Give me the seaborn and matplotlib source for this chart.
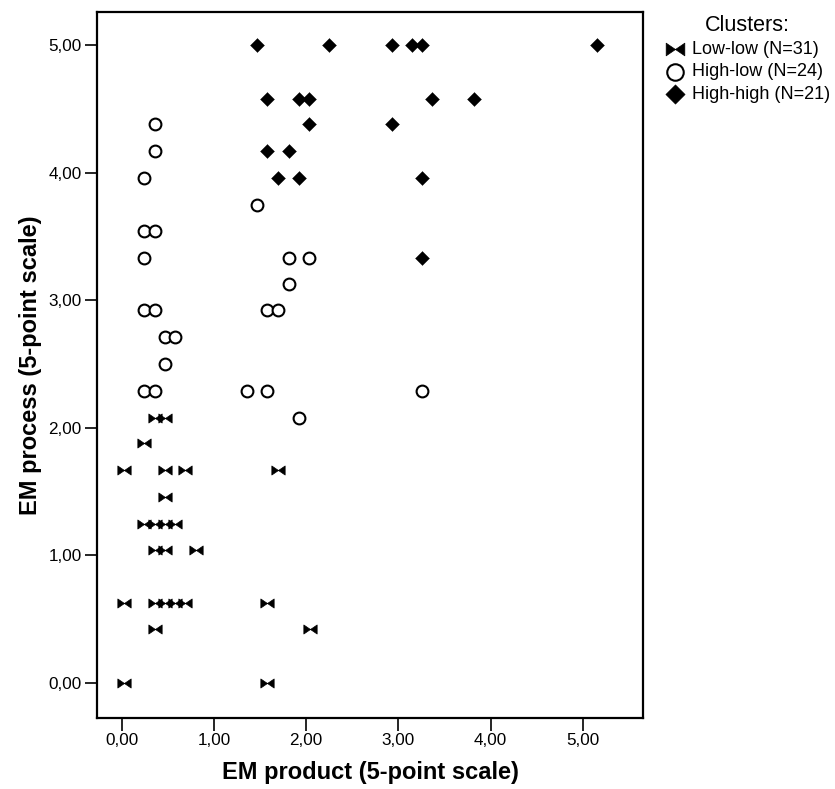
import numpy as np
import pandas as pd
import matplotlib
matplotlib.use("Agg")
import matplotlib.pyplot as plt
from matplotlib.path import Path
import seaborn as sns

# ---- data ----
lowlow_x = [0.36, 0.47, 0.24, 0.02, 0.47, 0.69, 1.70, 0.47, 0.24, 0.36, 0.47, 0.58,
            0.36, 0.47, 0.81, 0.02, 0.36, 0.47, 0.58, 0.69, 1.58, 0.36, 2.04, 0.02, 1.58]
lowlow_y = [2.08, 2.08, 1.88, 1.67, 1.67, 1.67, 1.67, 1.46, 1.25, 1.25, 1.25, 1.25,
            1.04, 1.04, 1.04, 0.63, 0.63, 0.63, 0.63, 0.63, 0.63, 0.42, 0.42, 0.00, 0.00]

highlow_x = [0.36, 0.36, 0.24, 1.47, 0.24, 0.36, 0.24, 1.81, 2.03, 1.81, 0.24, 0.36,
             1.58, 1.70, 0.47, 0.58, 0.47, 0.24, 0.36, 1.36, 1.58, 3.26, 1.92]
highlow_y = [4.38, 4.17, 3.96, 3.75, 3.54, 3.54, 3.33, 3.33, 3.33, 3.13, 2.92, 2.92,
             2.92, 2.92, 2.71, 2.71, 2.50, 2.29, 2.29, 2.29, 2.29, 2.29, 2.08]

highhigh_x = [1.47, 2.25, 2.93, 3.15, 3.26, 5.15, 1.58, 1.92, 2.03, 3.37, 3.82,
              2.03, 2.93, 1.58, 1.81, 1.70, 1.92, 3.26, 3.26]
highhigh_y = [5.00, 5.00, 5.00, 5.00, 5.00, 5.00, 4.58, 4.58, 4.58, 4.58, 4.58,
              4.38, 4.38, 4.17, 4.17, 3.96, 3.96, 3.96, 3.33]

cluster_labels = ["Low-low (N=31)", "High-low (N=24)", "High-high (N=21)"]
tick_values = [0, 1, 2, 3, 4, 5]
tick_labels = ["0,00", "1,00", "2,00", "3,00", "4,00", "5,00"]
x_title = "EM product (5-point scale)"
y_title = "EM process (5-point scale)"
legend_title = "Clusters:"

# ---- style ----
sns.set_style("white")
plt.rcParams["font.family"] = ["Liberation Sans", "DejaVu Sans"]
plt.rcParams["text.color"] = "black"
plt.rcParams["axes.labelcolor"] = "black"

bowtie = Path([(-1, 0.68), (0, 0), (1, 0.68), (1, -0.68), (0, 0), (-1, -0.68), (-1, 0.68)],
              [Path.MOVETO, Path.LINETO, Path.LINETO, Path.LINETO, Path.LINETO, Path.LINETO,
               Path.CLOSEPOLY])
diamond = Path([(0, 1), (1, 0), (0, -1), (-1, 0), (0, 1)],
               [Path.MOVETO, Path.LINETO, Path.LINETO, Path.LINETO, Path.CLOSEPOLY])

fig = plt.figure(figsize=(8.35, 7.89), dpi=100)
ax = fig.add_axes([97 / 835, 71 / 789, 546 / 835, 706 / 789])

df_ll = pd.DataFrame({"x": lowlow_x, "y": lowlow_y})
df_hl = pd.DataFrame({"x": highlow_x, "y": highlow_y})
df_hh = pd.DataFrame({"x": highhigh_x, "y": highhigh_y})

sns.scatterplot(data=df_ll, x="x", y="y", ax=ax, marker=bowtie, s=92, color="black",
                edgecolor="black", linewidth=0.5, label=cluster_labels[0], zorder=3)
sns.scatterplot(data=df_hl, x="x", y="y", ax=ax, marker="o", s=72, facecolor="white",
                edgecolor="black", linewidth=1.5, label=cluster_labels[1], zorder=3)
sns.scatterplot(data=df_hh, x="x", y="y", ax=ax, marker=diamond, s=100, color="black",
                edgecolor="black", linewidth=0.3, label=cluster_labels[2], zorder=3)

ax.set_xlim(-0.268, 5.654)
ax.set_ylim(-0.274, 5.259)
ax.set_xticks(tick_values)
ax.set_xticklabels(tick_labels)
ax.set_yticks(tick_values)
ax.set_yticklabels(tick_labels)
ax.tick_params(axis="both", direction="out", length=9, width=1.2, pad=2,
               labelsize=12.3, colors="black", bottom=True, left=True)
for sp in ax.spines.values():
    sp.set_linewidth(1.6)
    sp.set_color("black")

ax.set_xlabel(x_title, fontsize=17, fontweight="bold", labelpad=9, color="black")
ax.set_ylabel(y_title, fontsize=17, fontweight="bold", labelpad=5, color="black")

leg = ax.legend(loc="upper left", bbox_to_anchor=(652 / 835, 1 - 2 / 789),
                bbox_transform=fig.transFigure, frameon=False, title=legend_title,
                fontsize=13, title_fontsize=15.5, markerscale=1.4,
                handletextpad=0.3, borderpad=0.2, labelspacing=0.3, handlelength=1.2)
for t in leg.get_texts():
    t.set_color("black")
leg.get_title().set_color("black")

fig.savefig("out.png", dpi=100)
